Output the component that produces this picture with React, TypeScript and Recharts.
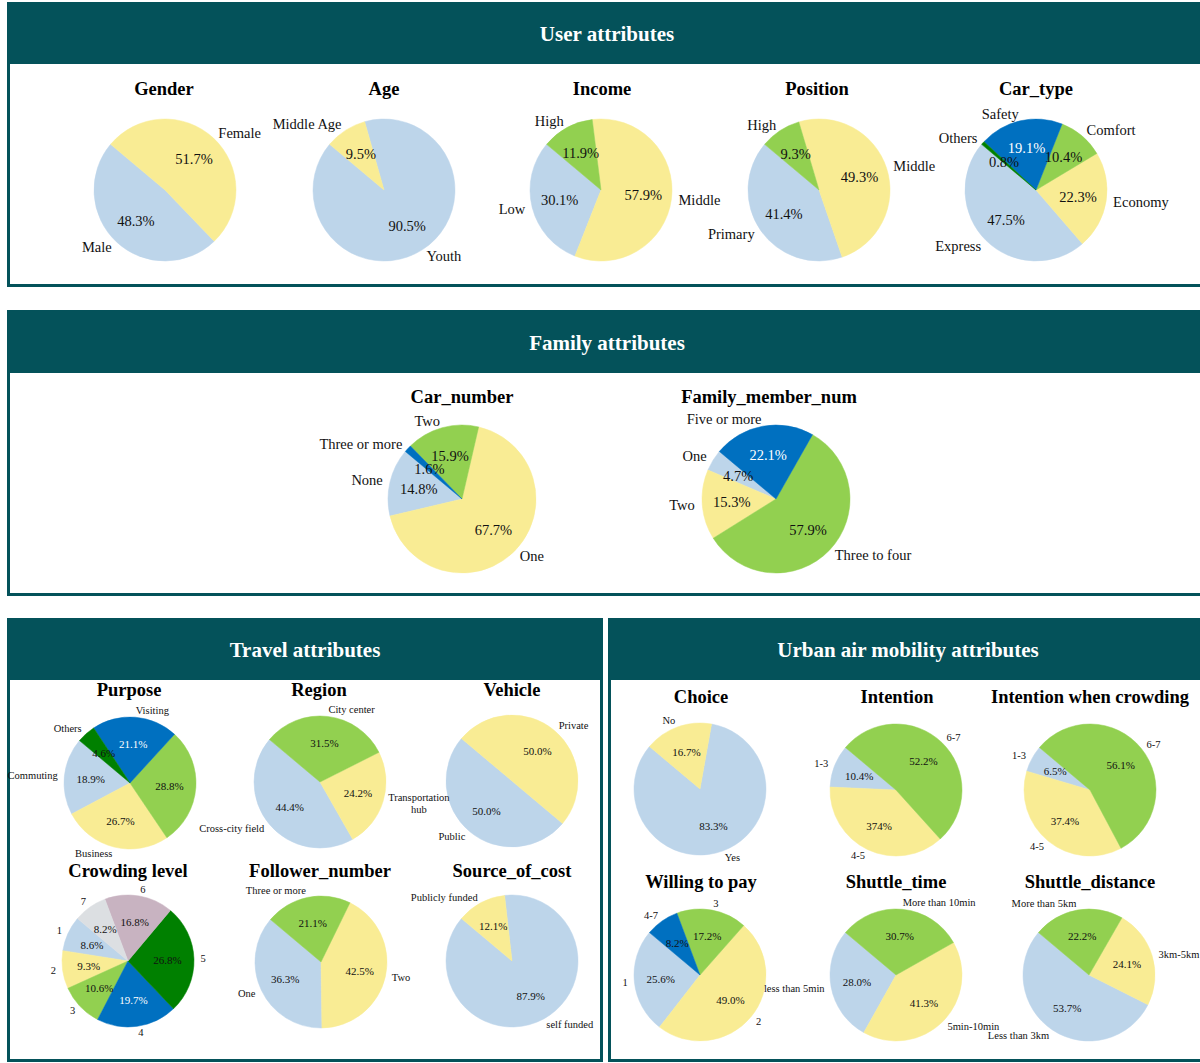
import React from 'react';
import { PieChart, Pie, Cell } from 'recharts';

// ---------- data ----------
const genderNames = ['Male', 'Female'];
const genderValues = [48.3, 51.7];
const ageNames = ['Youth', 'Middle Age'];
const ageValues = [90.5, 9.5];
const incomeNames = ['Low', 'Middle', 'High'];
const incomeValues = [30.1, 57.9, 11.9];
const positionNames = ['Primary', 'Middle', 'High'];
const positionValues = [41.4, 49.3, 9.3];
const carTypeNames = ['Express', 'Economy', 'Comfort', 'Safety', 'Others'];
const carTypeValues = [47.5, 22.3, 10.4, 19.1, 0.8];

const carNumberNames = ['None', 'One', 'Two', 'Three or more'];
const carNumberValues = [14.8, 67.7, 15.9, 1.6];
const familyNames = ['One', 'Two', 'Three to four', 'Five or more'];
const familyValues = [4.7, 15.3, 57.9, 22.1];

const purposeNames = ['Commuting', 'Business', '', 'Visiting', 'Others'];
const purposeValues = [18.9, 26.7, 28.8, 21.1, 4.6];
const regionNames = ['Cross-city field', 'Transportation\nhub', 'City center'];
const regionValues = [44.4, 24.2, 31.5];
const vehicleNames = ['Public', 'Private'];
const vehicleValues = [50.0, 50.0];
const crowdingNames = ['1', '2', '3', '4', '5', '6', '7'];
const crowdingValues = [8.6, 9.3, 10.6, 19.7, 26.8, 16.8, 8.2];
const followerNames = ['One', 'Two', 'Three or more'];
const followerValues = [36.3, 42.5, 21.1];
const sourceNames = ['self funded', 'Publicly funded'];
const sourceValues = [87.9, 12.1];

const choiceNames = ['Yes', 'No'];
const choiceValues = [83.3, 16.7];
const intentionNames = ['1-3', '4-5', '6-7'];
const intentionValues = [10.4, 37.4, 52.2];
const intentionPctText = ['10.4%', '374%', '52.2%'];
const intentionCrowdNames = ['1-3', '4-5', '6-7'];
const intentionCrowdValues = [6.5, 37.4, 56.1];
const payNames = ['1', '2', '3', '4-7'];
const payValues = [25.6, 49.0, 17.2, 8.2];
const shuttleTimeNames = ['less than 5min', '5min-10min', 'More than 10min'];
const shuttleTimeValues = [28.0, 41.3, 30.7];
const shuttleDistNames = ['Less than 3km', '3km-5km', 'More than 5km'];
const shuttleDistValues = [53.7, 24.1, 22.2];

// ---------- styles ----------
const TEAL = '#04525A';
const LB = '#BDD5EA';
const YE = '#F9EC94';
const GR = '#92D050';
const BL = '#0070C0';
const DG = '#008000';
const MA = '#C8B3C1';
const LG = '#DCDFE2';
const FONT = "'Liberation Serif', 'Times New Roman', Times, serif";

type PieCfg = {
  title: string;
  names: string[];
  values: number[];
  colors: string[];
  cx: number;
  cy: number;
  r: number;
  tx: number;
  ty: number;
  fs: number;
  white?: number[];
  pct?: string[];
  front?: boolean;
};

const TOP_R = 71, FAM_R = 74, LOW_R = 66;
const TOP_FS = 14.5, LOW_FS = 10.5;

const pies: PieCfg[] = [
  { title: 'Gender', names: genderNames, values: genderValues, colors: [LB, YE], cx: 165, cy: 190, r: TOP_R, tx: 164, ty: 89, fs: TOP_FS },
  { title: 'Age', names: ageNames, values: ageValues, colors: [LB, YE], cx: 384, cy: 190, r: TOP_R, tx: 384, ty: 89, fs: TOP_FS },
  { title: 'Income', names: incomeNames, values: incomeValues, colors: [LB, YE, GR], cx: 601, cy: 190, r: TOP_R, tx: 602, ty: 89, fs: TOP_FS },
  { title: 'Position', names: positionNames, values: positionValues, colors: [LB, YE, GR], cx: 819, cy: 190, r: TOP_R, tx: 817, ty: 89, fs: TOP_FS },
  { title: 'Car_type', names: carTypeNames, values: carTypeValues, colors: [LB, YE, GR, BL, DG], cx: 1036, cy: 190, r: TOP_R, tx: 1036, ty: 89, fs: TOP_FS, white: [3] },

  { title: 'Car_number', names: carNumberNames, values: carNumberValues, colors: [LB, YE, GR, BL], cx: 462, cy: 499, r: FAM_R, tx: 462, ty: 397, fs: TOP_FS },
  { title: 'Family_member_num', names: familyNames, values: familyValues, colors: [LB, YE, GR, BL], cx: 776, cy: 499, r: FAM_R, tx: 769, ty: 397, fs: TOP_FS, white: [3] },

  { title: 'Purpose', names: purposeNames, values: purposeValues, colors: [LB, YE, GR, BL, DG], cx: 130, cy: 783, r: LOW_R, tx: 129, ty: 690, fs: LOW_FS, white: [3] },
  { title: 'Region', names: regionNames, values: regionValues, colors: [LB, YE, GR], cx: 320, cy: 782, r: LOW_R, tx: 319, ty: 690, fs: LOW_FS, front: true },
  { title: 'Vehicle', names: vehicleNames, values: vehicleValues, colors: [LB, YE], cx: 512, cy: 781, r: LOW_R, tx: 512, ty: 690, fs: LOW_FS },
  { title: 'Crowding level', names: crowdingNames, values: crowdingValues, colors: [LB, YE, GR, BL, DG, MA, LG], cx: 128, cy: 961, r: LOW_R, tx: 128, ty: 871, fs: LOW_FS, white: [3] },
  { title: 'Follower_number', names: followerNames, values: followerValues, colors: [LB, YE, GR], cx: 321, cy: 962, r: LOW_R, tx: 320, ty: 871, fs: LOW_FS },
  { title: 'Source_of_cost', names: sourceNames, values: sourceValues, colors: [LB, YE], cx: 512, cy: 961, r: LOW_R, tx: 512, ty: 871, fs: LOW_FS },

  { title: 'Choice', names: choiceNames, values: choiceValues, colors: [LB, YE], cx: 700, cy: 789, r: LOW_R, tx: 701, ty: 697, fs: LOW_FS },
  { title: 'Intention', names: intentionNames, values: intentionValues, colors: [LB, YE, GR], cx: 896, cy: 790, r: LOW_R, tx: 897, ty: 697, fs: LOW_FS, pct: intentionPctText },
  { title: 'Intention when crowding', names: intentionCrowdNames, values: intentionCrowdValues, colors: [LB, YE, GR], cx: 1090, cy: 790, r: LOW_R, tx: 1090, ty: 697, fs: LOW_FS },
  { title: 'Willing to pay', names: payNames, values: payValues, colors: [LB, YE, GR, BL], cx: 700, cy: 975, r: LOW_R, tx: 701, ty: 882, fs: LOW_FS },
  { title: 'Shuttle_time', names: shuttleTimeNames, values: shuttleTimeValues, colors: [LB, YE, GR], cx: 896, cy: 975, r: LOW_R, tx: 896, ty: 882, fs: LOW_FS },
  { title: 'Shuttle_distance', names: shuttleDistNames, values: shuttleDistValues, colors: [LB, YE, GR], cx: 1089, cy: 975, r: LOW_R, tx: 1090, ty: 882, fs: LOW_FS },
];

const START = 140;
const W = 440;
const H = 280;

function PieBlock({ cfg }: { cfg: PieCfg }) {
  const { names, values, colors, r, fs } = cfg;
  const data = names.map((n, i) => ({ name: n, value: values[i] }));
  const total = values.reduce((a, b) => a + b, 0);
  const cum: number[] = [];
  values.reduce((acc, v) => { cum.push(acc + v / 2); return acc + v; }, 0);
  const pctFs = fs === LOW_FS ? 11 : fs;

  const renderLabel = (p: any) => {
    const i = p.index;
    const mid = typeof p.midAngle === 'number' ? p.midAngle : START + (360 * cum[i]) / total;
    const rad = (-mid * Math.PI) / 180;
    const c = Math.cos(rad);
    const s = Math.sin(rad);
    const ccx = W / 2;
    const ccy = H / 2;
    const ox = ccx + 1.1 * r * c;
    const oy = ccy + 1.1 * r * s;
    const ix = ccx + 0.6 * r * c;
    const iy = ccy + 0.6 * r * s;
    const name = names[i];
    const lines = name.split('\n');
    const pctText = cfg.pct ? cfg.pct[i] : `${values[i].toFixed(1)}%`;
    const isWhite = cfg.white && cfg.white.indexOf(i) >= 0;
    let nameEl: any = null;
    if (lines.length === 1) {
      nameEl = (
        <text x={ox} y={oy} textAnchor={c >= 0 ? 'start' : 'end'} dominantBaseline="central" fontSize={fs} fontFamily={FONT} fill="#111">
          {name}
        </text>
      );
    } else {
      const maxLen = Math.max(...lines.map((l) => l.length));
      const half = (maxLen * fs * 0.4) / 2;
      const mx = c >= 0 ? ox + half : ox - half;
      const lh = fs * 1.1;
      nameEl = (
        <text textAnchor="middle" dominantBaseline="central" fontSize={fs} fontFamily={FONT} fill="#111">
          {lines.map((l, k) => (
            <tspan key={k} x={mx} y={oy + (k - (lines.length - 1) / 2) * lh}>{l}</tspan>
          ))}
        </text>
      );
    }
    return (
      <g key={`lab-${i}`}>
        {name ? nameEl : null}
        <text x={ix} y={iy} textAnchor="middle" dominantBaseline="central" fontSize={pctFs} fontFamily={FONT} fill={isWhite ? '#ffffff' : '#111'}>
          {pctText}
        </text>
      </g>
    );
  };

  return (
    <div style={{ position: 'absolute', left: cfg.cx - W / 2, top: cfg.cy - H / 2, width: W, height: H, zIndex: cfg.front ? 2 : 1 }}>
      <PieChart width={W} height={H} margin={{ top: 0, right: 0, bottom: 0, left: 0 }} style={{ overflow: 'visible' }}>
        <Pie
          data={data}
          dataKey="value"
          nameKey="name"
          cx={W / 2}
          cy={H / 2}
          outerRadius={r}
          startAngle={START}
          endAngle={START + 360}
          isAnimationActive={false}
          label={renderLabel}
          labelLine={false}
        >
          {data.map((d, i) => (
            <Cell key={i} fill={colors[i]} stroke={colors[i]} strokeWidth={0.5} />
          ))}
        </Pie>
      </PieChart>
    </div>
  );
}

function Panel({ left, top, width, height, header, title }: { left: number; top: number; width: number; height: number; header: number; title: string }) {
  return (
    <div style={{ position: 'absolute', left, top, width, height, border: `3px solid ${TEAL}`, boxSizing: 'border-box', background: '#fff' }}>
      <div style={{ position: 'absolute', left: -3, top: -3, width, height: header, background: TEAL }}>
        <div style={{ position: 'absolute', left: 0, right: 0, top: header / 2 + 1, transform: 'translateY(-50%)', textAlign: 'center', color: '#fff', fontFamily: FONT, fontWeight: 'bold', fontSize: 21, lineHeight: 1 }}>
          {title}
        </div>
      </div>
    </div>
  );
}

function Title({ x, y, text }: { x: number; y: number; text: string }) {
  return (
    <div style={{ position: 'absolute', left: x, top: y, transform: 'translate(-50%, -50%)', whiteSpace: 'nowrap', fontFamily: FONT, fontWeight: 'bold', fontSize: 18.5, lineHeight: 1, color: '#000', zIndex: 3 }}>
      {text}
    </div>
  );
}

export default function App() {
  return (
    <div style={{ position: 'absolute', left: 0, top: 0, width: 1200, height: 1063, background: '#fff', overflow: 'hidden' }}>
      <Panel left={7} top={2} width={1200} height={285} header={62} title="User attributes" />
      <Panel left={7} top={310} width={1200} height={286} header={63} title="Family attributes" />
      <Panel left={7} top={618} width={596} height={444} header={62} title="Travel attributes" />
      <Panel left={608} top={618} width={600} height={444} header={62} title="Urban air mobility attributes" />
      {pies.map((p, i) => (
        <PieBlock key={i} cfg={p} />
      ))}
      {pies.map((p, i) => (
        <Title key={`t${i}`} x={p.tx} y={p.ty} text={p.title} />
      ))}
    </div>
  );
}
